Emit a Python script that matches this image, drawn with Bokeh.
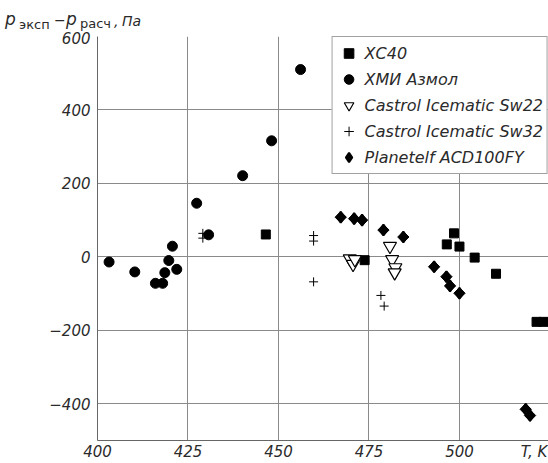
import numpy as np
from bokeh.plotting import figure
from bokeh.layouts import column
from bokeh.models import (FixedTicker, CustomJSTickFormatter, Legend,
                          LegendItem, Range1d, Div)
from bokeh.embed import file_html
from bokeh.resources import INLINE

# ---- data ----
xc40_T = [446.5, 473.8, 496.5, 498.5, 500.0, 504.2, 510.1, 521.3, 523.3]
xc40_P = [61, -9, 34, 64, 28, -2, -46, -177, -177]

azmol_T = [403.2, 410.3, 416.0, 418.0, 418.6, 419.7, 420.7, 421.9, 427.4,
           430.7, 440.1, 448.1, 456.1]
azmol_P = [-14, -41, -72, -72, -43, -10, 29, -34, 146, 60, 221, 316, 510]

sw22_T = [469.7, 470.6, 471.1, 480.8, 481.4, 482.3, 482.1]
sw22_P = [-5, -20, -7, 29, -7, -29, -43]

sw32_T = [429.1, 429.1, 459.7, 459.7, 459.7, 478.3, 479.2]
sw32_P = [64, 51, 58, 43, -68, -105, -134]

acd_T = [467.2, 470.9, 473.1, 479.0, 484.5, 493.0, 496.4, 497.4, 500.0,
         518.3, 519.5]
acd_P = [108, 104, 100, 73, 54, -27, -54, -79, -99, -415, -432]

x_ticks = [400, 425, 450, 475, 500]
x_title_tick = 520.6          # where the "T, K" title sits on the axis
y_ticks = [-400, -200, 0, 200, 400, 600]
series_names = ["ХС40", "ХМИ Азмол", "Castrol Icematic Sw22",
                "Castrol Icematic Sw32", "Planetelf ACD100FY"]

FONT = "DejaVu Sans"
TXT = "#2a2a2a"
GRID = "#8a8a8a"
W = 548
TOP_H = 31

# ---------------- title strip:  p_эксп − p_расч, Па ----------------
def span(left, top, txt, size, italic=False):
    st = "font-style:italic;" if italic else ""
    return (f'<span style="position:absolute;left:{left}px;top:{top}px;'
            f'font-size:{size}px;{st}white-space:nowrap;">{txt}</span>')

title_html = (
    f'<div style="position:relative;width:{W}px;height:{TOP_H}px;'
    f"font-family:'{FONT}',sans-serif;color:{TXT};line-height:1;\">"
    + span(5, 11, "p", 17, True)
    + span(19, 17.5, "эксп", 13)
    + span(54, 12.5, "\u2212", 14)
    + span(66, 11, "p", 17, True)
    + span(80, 16.5, "расч", 13)
    + span(114, 13.5, ",", 14, True)
    + span(122, 13.5, "Па", 14, True)
    + "</div>")
top = Div(text=title_html, width=W, height=TOP_H, margin=(0, 0, 0, 0),
          styles={"overflow": "visible"})

# ---------------- main plot ----------------
p = figure(width=W, height=463 - TOP_H, x_range=Range1d(400, 524.6),
           y_range=Range1d(-500, 600), output_backend="svg",
           toolbar_location=None, min_border_left=97,
           min_border_top=36 - TOP_H, min_border_right=0,
           min_border_bottom=23)
p.outline_line_color = None
p.background_fill_color = "white"

for ax in (p.xaxis[0], p.yaxis[0]):
    ax.major_tick_out = 0
    ax.major_tick_in = 0
    ax.minor_tick_out = 0
    ax.minor_tick_in = 0
    ax.axis_line_color = "#666666"
    ax.major_label_text_font = FONT
    ax.major_label_text_font_style = "italic"
    ax.major_label_text_font_size = "15px"
    ax.major_label_text_color = TXT

p.xaxis.ticker = FixedTicker(ticks=x_ticks + [x_title_tick])
p.xaxis.formatter = CustomJSTickFormatter(
    code="return tick > 510 ? 'T, K' : String(tick);")
p.yaxis.ticker = FixedTicker(ticks=y_ticks)
p.xaxis.major_label_standoff = 2
p.yaxis.major_label_standoff = 7
p.yaxis.formatter = CustomJSTickFormatter(
    code="return tick < 0 ? '\u2212' + Math.abs(tick) : String(tick);")

p.xgrid.ticker = FixedTicker(ticks=x_ticks)
p.ygrid.ticker = FixedTicker(ticks=y_ticks)
p.xgrid.grid_line_color = GRID
p.ygrid.grid_line_color = GRID

r1 = p.scatter(xc40_T, xc40_P, marker="square", size=9, color="black")
r2 = p.scatter(azmol_T, azmol_P, marker="circle", size=10, color="black")
r3 = p.scatter(sw22_T, sw22_P, marker="inverted_triangle", size=13,
               fill_color="white", line_color="black", line_width=1.2)
r4 = p.scatter(sw32_T, sw32_P, marker="cross", size=9, line_color="black",
               line_width=1)
# diamond glyph (also used for the legend symbol), covered by rotated squares
r5 = p.scatter(acd_T, acd_P, marker="diamond", size=11, color="black",
               line_width=2)
p.scatter(acd_T, acd_P, marker="square", angle=np.pi / 4, size=8,
          color="black")

legend = Legend(items=[LegendItem(label=n, renderers=[r])
                       for n, r in zip(series_names, [r1, r2, r3, r4, r5])],
                location="top_right")
legend.margin = 0
legend.padding = 4
legend.spacing = 2
legend.glyph_width = 24
legend.glyph_height = 24
legend.label_height = 20
legend.label_width = 172
legend.label_standoff = 4
legend.label_text_font = FONT
legend.label_text_font_style = "italic"
legend.label_text_font_size = "16px"
legend.label_text_color = TXT
legend.border_line_color = "#444444"
legend.border_line_width = 1
legend.background_fill_alpha = 1
p.add_layout(legend)

layout = column(top, p, spacing=0)
open("out.html", "w").write(file_html(layout, INLINE))
